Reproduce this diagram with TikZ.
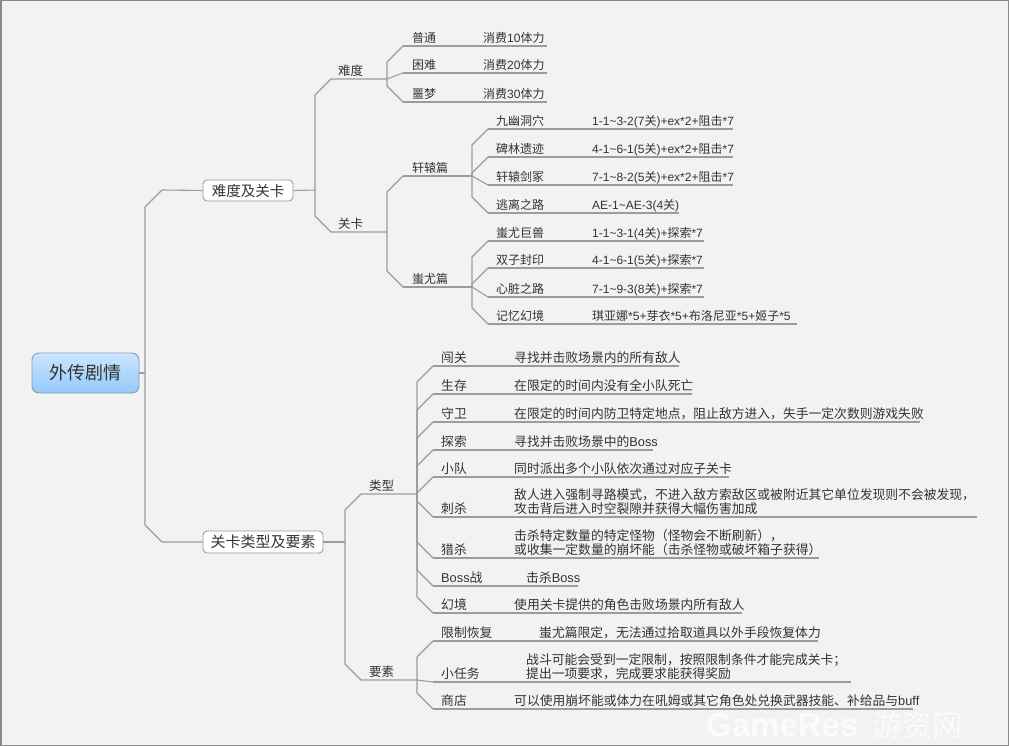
\documentclass[tikz,border=0pt]{standalone}
\usepackage{fontspec}
\setmainfont{Noto Sans CJK SC}
\newfontfamily\lat{Liberation Sans}
\definecolor{bgc}{HTML}{F2F2F2}
\definecolor{framec}{HTML}{8A8A8A}
\definecolor{linec}{HTML}{9C9C9C}
\definecolor{txtc}{HTML}{333333}
\definecolor{boxc}{HTML}{9A9A9A}
\definecolor{roottop}{HTML}{CBE6FF}
\definecolor{rootbot}{HTML}{93C9FA}
\definecolor{rootdraw}{HTML}{8A9AAA}
\definecolor{wmc}{HTML}{FBFBFB}
\newcommand\lf{\fontsize{12}{13.5}\selectfont}
\newcommand\leaf[8]{%
  \coordinate (r#1) at (#2,#3);
  \node[ttl] (t#1) at (#4,#3-3) {#5};
  \node[val] (v#1) at (#6,#3-3) {#7};
  \coordinate (e#1) at (#8,#3);
  \draw[conn] (r#1) -- (e#1);
}
\begin{document}
\begin{tikzpicture}[x=1pt,y=-1pt,
  conn/.style={draw=linec,line width=1.1pt,line join=round},
  ttl/.style={anchor=south west,inner sep=0pt,text depth=0pt,text=txtc,font=\lf},
  val/.style={ttl,align=left},
  lvl/.style={anchor=south west,inner sep=0pt,text depth=0pt,text=txtc,font=\fontsize{12.5}{14}\selectfont},
  topbox/.style={draw=boxc,fill=white,rounded corners=4pt,line width=0.9pt,inner sep=0pt,text=txtc},
  rootbox/.style={draw=rootdraw,top color=roottop,bottom color=rootbot,rounded corners=7pt,line width=0.9pt,inner sep=0pt,text={black!80},font=\fontsize{18}{20}\selectfont,minimum width=107pt,minimum height=40pt},
  wmark/.style={anchor=base west,inner sep=0pt,text=wmc}
]
\useasboundingbox (0,0) rectangle (1009,746);
\fill[bgc] (0,0) rectangle (1009,746);
\draw[framec,line width=1.5pt] (0.75,0.75) rectangle (1008.25,745.25);

% watermark
\node[wmark] (wm) at (706,736) {{\lat\bfseries\fontsize{33}{34}\selectfont GameRes}\hspace{14pt}{\fontsize{30}{32}\selectfont 游资网}};

% root and main topics
\node[rootbox] (root) at (85.5,373) {外传剧情};
\node[topbox,minimum width=90pt,minimum height=21pt,font=\fontsize{14.5}{16}\selectfont] (A) at (248,190.5) {难度及关卡};
\node[topbox,minimum width=120pt,minimum height=22pt,font=\fontsize{15}{17}\selectfont] (B) at (263,542) {关卡类型及要素};
\coordinate (J0) at (145,373);
\draw[conn] (root.east) -- (J0);
\draw[conn] (J0) -- ++(0,-166) -- ++(17,-17) -- (A.west);
\draw[conn] (J0) -- ++(0,152) -- ++(17,17) -- (B.west);

% upper subtree
\coordinate (J1) at (315,190);
\draw[conn] (A.east) -- (J1);
\coordinate (rnd) at (331,79);
\coordinate (J2) at (387,79);
\node[lvl] (tnd) at (338,76) {难度};
\draw[conn] (J1) -- ++(0,-95) -- (rnd) -- (J2);
\coordinate (rgk) at (331,232);
\coordinate (J3) at (387,232);
\node[lvl] (tgk) at (338,229) {关卡};
\draw[conn] (J1) -- ++(0,26) -- (rgk) -- (J3);

\leaf{pt}{403}{46}{412}{普通}{483}{消费{\lat 10}体力}{547}
\leaf{kn}{403}{73}{412}{困难}{483}{消费{\lat 20}体力}{547}
\leaf{em}{403}{102}{412}{噩梦}{483}{消费{\lat 30}体力}{547}
\draw[conn] (J2) -- ++(0,-17) -- (rpt);
\draw[conn] (J2) -- (rkn);
\draw[conn] (J2) -- ++(0,7) -- (rem);

\coordinate (rxy) at (403,176);
\coordinate (J4) at (472,176);
\node[ttl] (txy) at (412,173) {轩辕篇};
\draw[conn] (rxy) -- (J4);
\coordinate (rcy) at (403,287);
\coordinate (J5) at (472,287);
\node[ttl] (tcy) at (412,284) {蚩尤篇};
\draw[conn] (rcy) -- (J5);
\draw[conn] (J3) -- ++(0,-40) -- (rxy);
\draw[conn] (J3) -- ++(0,39) -- (rcy);

\leaf{a1}{488}{129}{496}{九幽洞穴}{592}{{\lat 1-1\textasciitilde 3-2(7}关{\lat )+ex*2+}阻击{\lat *7}}{733}
\leaf{a2}{488}{157}{496}{碑林遗迹}{592}{{\lat 4-1\textasciitilde 6-1(5}关{\lat )+ex*2+}阻击{\lat *7}}{733}
\leaf{a3}{488}{185}{496}{轩辕剑冢}{592}{{\lat 7-1\textasciitilde 8-2(5}关{\lat )+ex*2+}阻击{\lat *7}}{733}
\leaf{a4}{488}{213}{496}{逃离之路}{592}{{\lat AE-1\textasciitilde AE-3(4}关{\lat )}}{679}
\draw[conn] (J4) -- ++(0,-31) -- (ra1);
\draw[conn] (J4) -- ++(0,-3) -- (ra2);
\draw[conn] (J4) -- (ra3);
\draw[conn] (J4) -- ++(0,21) -- (ra4);

\leaf{b1}{488}{241}{496}{蚩尤巨兽}{592}{{\lat 1-1\textasciitilde 3-1(4}关{\lat )+}探索{\lat *7}}{704}
\leaf{b2}{488}{268}{496}{双子封印}{592}{{\lat 4-1\textasciitilde 6-1(5}关{\lat )+}探索{\lat *7}}{704}
\leaf{b3}{488}{297}{496}{心脏之路}{592}{{\lat 7-1\textasciitilde 9-3(8}关{\lat )+}探索{\lat *7}}{704}
\leaf{b4}{488}{324}{496}{记忆幻境}{592}{琪亚娜{\lat *5+}芽衣{\lat *5+}布洛尼亚{\lat *5+}姬子{\lat *5}}{797}
\draw[conn] (J5) -- ++(0,-30) -- (rb1);
\draw[conn] (J5) -- ++(0,-3) -- (rb2);
\draw[conn] (J5) -- (rb3);
\draw[conn] (J5) -- ++(0,21) -- (rb4);

% lower subtree
\renewcommand\lf{\fontsize{12.8}{14}\selectfont}
\coordinate (J6) at (345,542);
\draw[conn] (B.east) -- (J6);
\coordinate (rlx) at (361,494);
\coordinate (J7) at (417,494);
\node[lvl] (tlx) at (369,491) {类型};
\draw[conn] (J6) -- ++(0,-32) -- (rlx) -- (J7);
\coordinate (rys) at (361,680);
\coordinate (J8) at (417,680);
\node[lvl] (tys) at (369,677) {要素};
\draw[conn] (J6) -- ++(0,122) -- (rys) -- (J8);

\leaf{c1}{433}{366}{441}{闯关}{514}{寻找并击败场景内的所有敌人}{679}
\leaf{c2}{433}{394}{441}{生存}{514}{在限定的时间内没有全小队死亡}{692}
\leaf{c3}{433}{422}{441}{守卫}{514}{在限定的时间内防卫特定地点，阻止敌方进入，失手一定次数则游戏失败}{920}
\leaf{c4}{433}{450}{441}{探索}{514}{寻找并击败场景中的{\lat Boss}}{653}
\leaf{c5}{433}{477}{441}{小队}{514}{同时派出多个小队依次通过对应子关卡}{729}
\leaf{c6}{433}{517}{441}{刺杀}{514}{敌人进入强制寻路模式，不进入敌方索敌区或被附近其它单位发现则不会被发现，\\攻击背后进入时空裂隙并获得大幅伤害加成}{977}
\leaf{c7}{433}{558}{441}{猎杀}{514}{击杀特定数量的特定怪物（怪物会不断刷新），\\或收集一定数量的崩坏能（击杀怪物或破坏箱子获得）}{819}
\leaf{c8}{433}{586}{441}{{\lat Boss}战}{526}{击杀{\lat Boss}}{578}
\leaf{c9}{433}{613}{441}{幻境}{514}{使用关卡提供的角色击败场景内所有敌人}{742}
\draw[conn] (J7) -- ++(0,-112) -- (rc1);
\draw[conn] (J7) -- ++(0,-84) -- (rc2);
\draw[conn] (J7) -- ++(0,-56) -- (rc3);
\draw[conn] (J7) -- ++(0,-28) -- (rc4);
\draw[conn] (J7) -- ++(0,-1) -- (rc5);
\draw[conn] (J7) -- ++(0,7) -- (rc6);
\draw[conn] (J7) -- ++(0,48) -- (rc7);
\draw[conn] (J7) -- ++(0,76) -- (rc8);
\draw[conn] (J7) -- ++(0,103) -- (rc9);

\leaf{d1}{433}{641}{441}{限制恢复}{539}{蚩尤篇限定，无法通过拾取道具以外手段恢复体力}{818}
\leaf{d2}{433}{682}{441}{小任务}{526}{战斗可能会受到一定限制，按照限制条件才能完成关卡；\\提出一项要求，完成要求能获得奖励}{851}
\leaf{d3}{433}{709}{441}{商店}{514}{可以使用崩坏能或体力在吼姆或其它角色处兑换武器技能、补给品与{\lat buff}}{913}
\draw[conn] (J8) -- ++(0,-23) -- (rd1);
\draw[conn] (J8) -- (rd2);
\draw[conn] (J8) -- ++(0,13) -- (rd3);
\end{tikzpicture}
\end{document}
